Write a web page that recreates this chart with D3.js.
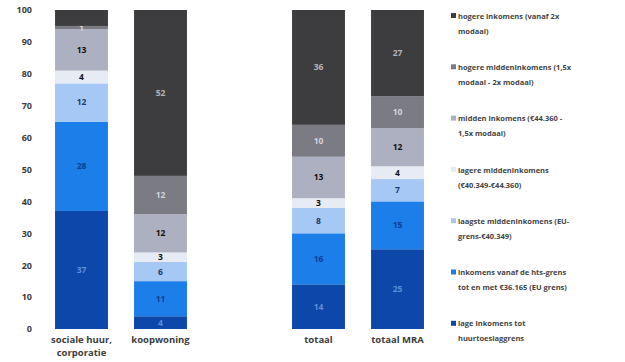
<!DOCTYPE html>
<html>
<head>
<meta charset="utf-8">
<script src="https://cdn.jsdelivr.net/npm/d3@7"></script>
<style>
  html, body { margin: 0; padding: 0; background: #ffffff; }
  svg { display: block; font-family: "Open Sans", "Liberation Sans", sans-serif; }
</style>
</head>
<body>
<svg id="chart" width="625" height="362"></svg>
<script>
// Categories along the x axis (an empty slot separates the housing types from the totals)
const categories = ["sociale huur, corporatie", "koopwoning", "", "totaal", "totaal MRA"];
const categoryLines = [["sociale huur,", "corporatie"], ["koopwoning"], [], ["totaal"], ["totaal MRA"]];

// Income groups, stacked bottom to top
const seriesNames = [
  "lage inkomens tot huurtoeslaggrens",
  "inkomens vanaf de hts-grens tot en met €36.165 (EU grens)",
  "laagste middeninkomens (EU-grens-€40.349)",
  "lagere middeninkomens (€40.349-€44.360)",
  "midden inkomens (€44.360 - 1,5x modaal)",
  "hogere middeninkomens (1,5x modaal - 2x modaal)",
  "hogere inkomens (vanaf 2x modaal)"
];
const legendLines = [
  ["lage inkomens tot", "huurtoeslaggrens"],
  ["inkomens vanaf de hts-grens", "tot en met €36.165 (EU grens)"],
  ["laagste middeninkomens (EU-", "grens-€40.349)"],
  ["lagere middeninkomens", "(€40.349-€44.360)"],
  ["midden inkomens (€44.360 -", "1,5x modaal)"],
  ["hogere middeninkomens (1,5x", "modaal - 2x modaal)"],
  ["hogere inkomens (vanaf 2x", "modaal)"]
];

// Percentages per category, one array per income group
const lageInkomens      = [37,  4, null, 14, 25];
const totEuGrens        = [28, 11, null, 16, 15];
const laagsteMidden     = [12,  6, null,  8,  7];
const lagereMidden      = [ 4,  3, null,  3,  4];
const middenInkomens    = [13, 12, null, 13, 12];
const hogereMidden      = [ 1, 12, null, 10, 10];
const hogereInkomens    = [ 5, 52, null, 36, 27];
const seriesValues = [lageInkomens, totEuGrens, laagsteMidden, lagereMidden, middenInkomens, hogereMidden, hogereInkomens];

// Segment labels left out of the drawing: [category index, series index]
const unlabeled = [[0, 6]];

const yTicks = [0, 10, 20, 30, 40, 50, 60, 70, 80, 90, 100];

const fills = ["#0c47a9", "#1b7ee9", "#a6c8f4", "#e7ecf4", "#adb0c0", "#7a7b83", "#3d3d3f"];
const labelFills = ["#5f8fd8", "#0b3f8f", "#1d3a6a", "#111111", "#111111", "#d2d4dc", "#b4b4b8"];

const svg = d3.select("#chart");

const x = d3.scaleBand().domain(d3.range(categories.length)).range([42, 437])
  .paddingInner(0.33).paddingOuter(0.165);
const y = d3.scaleLinear().domain([0, 100]).range([329, 10]);

// Table for the stack: one row per category
const rows = categories.map((c, i) => {
  const r = { idx: i };
  seriesNames.forEach((s, j) => { r[j] = seriesValues[j][i] || 0; });
  return r;
});
const stacked = d3.stack().keys(d3.range(seriesNames.length))(rows);

const g = svg.append("g");
stacked.forEach((layer, j) => {
  const lg = g.append("g");
  lg.selectAll("rect")
    .data(layer.filter(d => seriesValues[j][d.data.idx] != null))
    .join("rect")
    .attr("x", d => x(d.data.idx))
    .attr("width", x.bandwidth())
    .attr("y", d => y(d[1]))
    .attr("height", d => y(d[0]) - y(d[1]))
    .attr("fill", fills[j]);
  lg.selectAll("text")
    .data(layer.filter(d => seriesValues[j][d.data.idx] != null &&
      !unlabeled.some(u => u[0] === d.data.idx && u[1] === j)))
    .join("text")
    .attr("x", d => x(d.data.idx) + x.bandwidth() / 2)
    .attr("y", d => (y(d[0]) + y(d[1])) / 2)
    .attr("dy", "0.35em")
    .attr("text-anchor", "middle")
    .attr("font-size", 8.5)
    .attr("font-weight", 700)
    .attr("fill", labelFills[j])
    .text(d => seriesValues[j][d.data.idx]);
});

// Y axis: tick labels only
const yAxis = svg.append("g").attr("transform", "translate(32,0)")
  .call(d3.axisLeft(y).tickValues(yTicks).tickSize(0).tickPadding(0));
yAxis.select(".domain").remove();
yAxis.selectAll("text")
  .attr("font-size", 9).attr("font-weight", 700).attr("fill", "#3c3c3c")
  .attr("font-family", "Open Sans, sans-serif");

// X axis: category names, wrapped
const xAxis = svg.append("g").attr("transform", "translate(0,329)")
  .call(d3.axisBottom(x).tickSize(0).tickFormat(() => ""));
xAxis.select(".domain").remove();
xAxis.selectAll(".tick").each(function(i) {
  const t = d3.select(this).select("text").text(null)
    .attr("font-size", 9.5).attr("font-weight", 700).attr("fill", "#3c3c3c")
    .attr("font-family", "Open Sans, sans-serif").attr("y", 0).attr("dy", 0);
  categoryLines[i].forEach((line, k) => {
    t.append("tspan").attr("x", 0).attr("y", 14 + k * 13).text(line);
  });
});

// Legend, top item = top of the stack
const legend = svg.append("g");
const order = d3.range(seriesNames.length).reverse();
order.forEach((j, k) => {
  const top = 16 + k * 51.3;
  const item = legend.append("g");
  item.append("rect")
    .attr("x", 451).attr("y", top - 3).attr("width", 5).attr("height", 5)
    .attr("fill", fills[j]);
  const t = item.append("text")
    .attr("font-size", 7.5).attr("font-weight", 700).attr("fill", "#444444");
  legendLines[j].forEach((line, m) => {
    t.append("tspan").attr("x", 458).attr("y", top + m * 15).attr("dy", "0.35em").text(line);
  });
});
</script>
</body>
</html>
